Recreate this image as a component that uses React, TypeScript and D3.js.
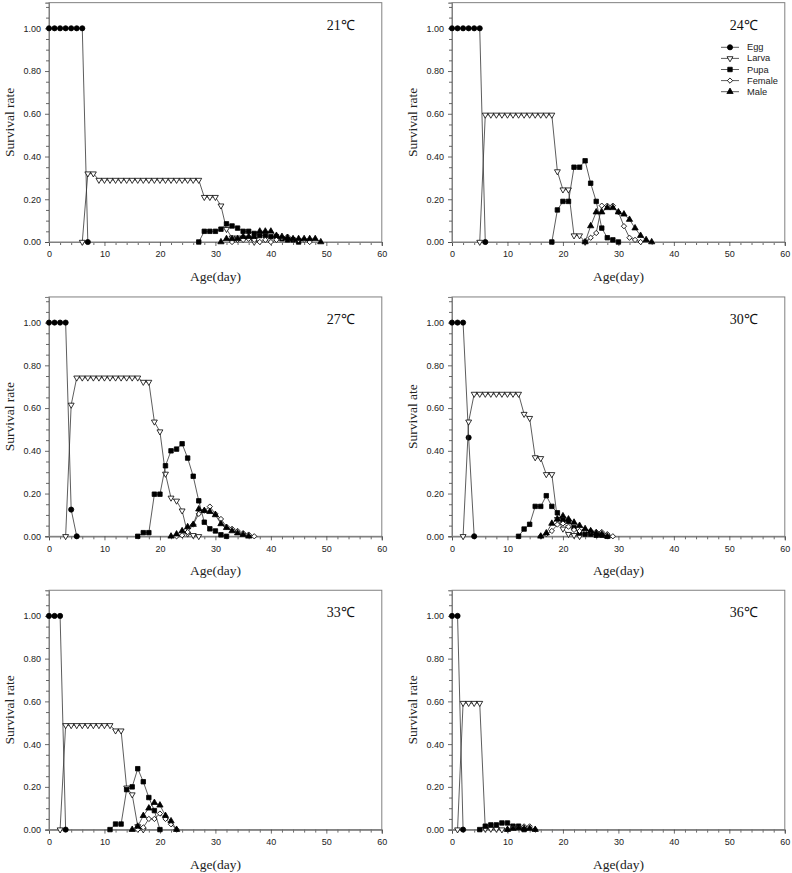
import React, { useEffect, useRef } from 'react';
import * as d3 from 'd3';

// ---------- shared tick values ----------
const xMajorTicks = [0, 10, 20, 30, 40, 50, 60];
const xMinorTicks = [2, 4, 6, 8, 12, 14, 16, 18, 22, 24, 26, 28, 32, 34, 36, 38, 42, 44, 46, 48, 52, 54, 56, 58];
const yMajorTicks = [0, 0.2, 0.4, 0.6, 0.8, 1.0];
const yMinorTicks = [0.05, 0.1, 0.15, 0.25, 0.3, 0.35, 0.45, 0.5, 0.55, 0.65, 0.7, 0.75, 0.85, 0.9, 0.95, 1.05, 1.1];
const stages = ['Egg', 'Larva', 'Pupa', 'Female', 'Male'];
const temps = ['21℃', '24℃', '27℃', '30℃', '33℃', '36℃'];
const yTitles = ['Survival rate', 'Survival rate', 'Survival rate', 'Survival ate', 'Survival rate', 'Survival rate'];

// ---------- 21 ℃ ----------
const egg21 = { start: 0, values: [1, 1, 1, 1, 1, 1, 1, 0] };
const larva21 = { start: 6, values: [0, 0.32, 0.32, 0.29, 0.29, 0.29, 0.29, 0.29, 0.29, 0.29, 0.29, 0.29, 0.29, 0.29, 0.29, 0.29, 0.29, 0.29, 0.29, 0.29, 0.29, 0.29, 0.21, 0.21, 0.21, 0.17, 0.06, 0.02, 0.02, 0.02, 0.02, 0] };
const pupa21 = { start: 27, values: [0, 0.05, 0.05, 0.05, 0.06, 0.085, 0.075, 0.065, 0.05, 0.05, 0.04, 0.03, 0.03, 0.025, 0.025, 0.015, 0.01, 0.01, 0] };
const female21 = { start: 33, values: [0, 0.01, 0.01, 0.015, 0.01, 0, 0.01, 0, 0.01, 0.02, 0.025, 0.015, 0.01, 0.01, 0] };
const male21 = { start: 31, values: [0, 0.015, 0.015, 0.015, 0.025, 0.025, 0.025, 0.05, 0.05, 0.05, 0.03, 0.025, 0.02, 0.015, 0.015, 0.015, 0.015, 0.015, 0] };

// ---------- 24 ℃ ----------
const egg24 = { start: 0, values: [1, 1, 1, 1, 1, 1, 0] };
const larva24 = { start: 5, values: [0, 0.595, 0.595, 0.595, 0.595, 0.595, 0.595, 0.595, 0.595, 0.595, 0.595, 0.595, 0.595, 0.595, 0.33, 0.245, 0.245, 0.03, 0.03, 0] };
const pupa24 = { start: 18, values: [0, 0.15, 0.19, 0.19, 0.35, 0.35, 0.38, 0.275, 0.19, 0.065, 0.02, 0.01, 0] };
const female24 = { start: 24, values: [0, 0.02, 0.042, 0.17, 0.17, 0.17, 0.14, 0.074, 0.02, 0.01, 0] };
const male24 = { start: 24, values: [0, 0.075, 0.14, 0.14, 0.16, 0.16, 0.14, 0.13, 0.105, 0.065, 0.03, 0.01, 0] };

// ---------- 27 ℃ ----------
const egg27 = { start: 0, values: [1, 1, 1, 1, 0.125, 0] };
const larva27 = { start: 3, values: [0, 0.615, 0.742, 0.742, 0.742, 0.742, 0.742, 0.742, 0.742, 0.742, 0.742, 0.742, 0.742, 0.742, 0.722, 0.722, 0.536, 0.49, 0.292, 0.18, 0.166, 0.12, 0.012, 0.005, 0] };
const pupa27 = { start: 16, values: [0, 0.017, 0.017, 0.197, 0.197, 0.33, 0.4, 0.408, 0.433, 0.366, 0.281, 0.166, 0.066, 0.035, 0.025, 0.007, 0] };
const female27 = { start: 23, values: [0, 0.005, 0.02, 0.055, 0.105, 0.12, 0.139, 0.105, 0.081, 0.045, 0.035, 0.025, 0.015, 0.008, 0] };
const male27 = { start: 22, values: [0, 0.01, 0.025, 0.044, 0.055, 0.127, 0.12, 0.115, 0.1, 0.058, 0.04, 0.025, 0.015, 0.008, 0] };

// ---------- 30 ℃ ----------
const egg30 = { start: 0, values: [1, 1, 1, 0.462, 0] };
const larva30 = { start: 2, values: [0, 0.536, 0.666, 0.666, 0.666, 0.666, 0.666, 0.666, 0.666, 0.666, 0.666, 0.572, 0.553, 0.369, 0.365, 0.29, 0.29, 0.08, 0.035, 0.01, 0.005, 0] };
const pupa30 = { start: 12, values: [0, 0.034, 0.056, 0.14, 0.14, 0.19, 0.14, 0.11, 0.075, 0.07, 0.04, 0.015, 0.01, 0.01, 0.005, 0.005, 0] };
const female30 = { start: 16, values: [0, 0.01, 0.025, 0.055, 0.06, 0.045, 0.03, 0.025, 0.03, 0.025, 0.02, 0.02, 0.01, 0] };
const male30 = { start: 16, values: [0, 0.015, 0.06, 0.08, 0.095, 0.08, 0.065, 0.05, 0.035, 0.025, 0.015, 0.01, 0] };

// ---------- 33 ℃ ----------
const egg33 = { start: 0, values: [1, 1, 1, 0] };
const larva33 = { start: 2, values: [0, 0.488, 0.488, 0.488, 0.488, 0.488, 0.488, 0.488, 0.488, 0.488, 0.463, 0.463, 0.196, 0.164, 0.015, 0] };
const pupa33 = { start: 11, values: [0, 0.026, 0.026, 0.187, 0.2, 0.285, 0.224, 0.15, 0.089, 0] };
const female33 = { start: 16, values: [0, 0.01, 0.05, 0.05, 0.075, 0.05, 0.025, 0] };
const male33 = { start: 15, values: [0, 0.015, 0.065, 0.1, 0.126, 0.114, 0.065, 0.04, 0] };

// ---------- 36 ℃ ----------
const egg36 = { start: 0, values: [1, 1, 0] };
const larva36 = { start: 1, values: [0, 0.592, 0.592, 0.592, 0.592, 0.003, 0.003, 0.003, 0] };
const pupa36 = { start: 5, values: [0, 0.016, 0.022, 0.022, 0.031, 0.031, 0.016, 0.016, 0] };
const female36 = { start: 10, values: [0, 0.01, 0.01, 0.015, 0.015, 0] };
const male36 = { start: 10, values: [0, 0.005, 0.008, 0.005, 0.005, 0] };

const panelSeries = [
  [egg21, larva21, pupa21, female21, male21],
  [egg24, larva24, pupa24, female24, male24],
  [egg27, larva27, pupa27, female27, male27],
  [egg30, larva30, pupa30, female30, male30],
  [egg33, larva33, pupa33, female33, male33],
  [egg36, larva36, pupa36, female36, male36],
];

// ---------- layout ----------
const colX = [49, 452];
const rowZero = [242, 536.3, 829.6];
const plotW = 332.8;
const unitH = 213.7;
const yTop = 1.12;

const SANS = '"Liberation Sans", Arial, sans-serif';
const SERIF = '"Liberation Serif", "Times New Roman", serif';

type Series = { start: number; values: number[] };

function markerPath(stage: number): { d: string; fill: string; rotate: number } {
  switch (stage) {
    case 0:
      return { d: d3.symbol().type(d3.symbolCircle).size(21)() as string, fill: '#000', rotate: 0 };
    case 1:
      return { d: d3.symbol().type(d3.symbolTriangle).size(15)() as string, fill: '#fff', rotate: 180 };
    case 2:
      return { d: d3.symbol().type(d3.symbolSquare).size(20)() as string, fill: '#000', rotate: 0 };
    case 3:
      return { d: d3.symbol().type(d3.symbolSquare).size(14)() as string, fill: '#fff', rotate: 45 };
    default:
      return { d: d3.symbol().type(d3.symbolTriangle).size(17)() as string, fill: '#000', rotate: 0 };
  }
}

export default function App() {
  const ref = useRef<SVGSVGElement | null>(null);

  useEffect(() => {
    const svg = d3.select(ref.current);
    svg.selectAll('*').remove();

    panelSeries.forEach((series, pi) => {
      const col = pi % 2;
      const row = Math.floor(pi / 2);
      const ox = colX[col];
      const zy = rowZero[row];
      const topY = zy - yTop * unitH;
      const x = d3.scaleLinear().domain([0, 60]).range([0, plotW]);
      const y = d3.scaleLinear().domain([0, yTop]).range([yTop * unitH, 0]);

      const g = svg.append('g').attr('transform', `translate(${ox},${topY})`);

      // frame
      g.append('rect')
        .attr('x', 0).attr('y', 0)
        .attr('width', plotW).attr('height', yTop * unitH)
        .attr('fill', 'none').attr('stroke', '#808080').attr('stroke-width', 1);

      // axes
      const h = yTop * unitH;
      const xMinor = g.append('g').attr('transform', `translate(0,${h})`)
        .call(d3.axisBottom(x).tickValues(xMinorTicks).tickSize(3).tickFormat(() => ''));
      const xMajor = g.append('g').attr('transform', `translate(0,${h})`)
        .call(d3.axisBottom(x).tickValues(xMajorTicks).tickSize(4).tickPadding(5).tickFormat(d3.format('d')));
      const yMinor = g.append('g')
        .call(d3.axisLeft(y).tickValues(yMinorTicks).tickSize(3).tickFormat(() => ''));
      const yMajor = g.append('g')
        .call(d3.axisLeft(y).tickValues(yMajorTicks).tickSize(4).tickPadding(4).tickFormat(d3.format('.2f')));
      [xMinor, xMajor, yMinor, yMajor].forEach((a) => {
        a.select('.domain').attr('stroke', '#808080');
        a.selectAll('.tick line').attr('stroke', '#444').attr('stroke-width', 0.8);
        a.selectAll('.tick text').attr('font-family', SANS).attr('font-size', 9).attr('fill', '#222');
      });

      // axis titles
      g.append('text')
        .attr('transform', `translate(-40,${h / 2}) rotate(-90)`)
        .attr('text-anchor', 'middle')
        .attr('dominant-baseline', 'central')
        .attr('font-family', SERIF).attr('font-size', 13.5).attr('fill', '#222')
        .text(yTitles[pi]);
      g.append('text')
        .attr('x', plotW / 2).attr('y', h + 39)
        .attr('text-anchor', 'middle')
        .attr('font-family', SERIF).attr('font-size', 13.5).attr('fill', '#222')
        .text('Age(day)');

      // temperature label
      g.append('text')
        .attr('x', plotW - 27).attr('y', 27)
        .attr('text-anchor', 'end')
        .attr('font-family', SERIF).attr('font-size', 14).attr('fill', '#111')
        .text(temps[pi]);

      // series
      const line = d3.line<[number, number]>().x((d) => x(d[0])).y((d) => y(d[1]));
      (series as Series[]).forEach((s, si) => {
        const pts: [number, number][] = s.values.map((v, i) => [s.start + i, v]);
        g.append('path')
          .attr('d', line(pts) as string)
          .attr('fill', 'none')
          .attr('stroke', '#333')
          .attr('stroke-width', 0.8);
        const m = markerPath(si);
        g.append('g').selectAll('path')
          .data(pts)
          .join('path')
          .attr('transform', (d) => `translate(${x(d[0])},${y(d[1])}) rotate(${m.rotate})`)
          .attr('d', m.d)
          .attr('fill', m.fill)
          .attr('stroke', '#000')
          .attr('stroke-width', 0.8);
      });

      // legend on 24 ℃ panel
      if (pi === 1) {
        const lg = svg.append('g').attr('transform', `translate(721,47.3)`);
        stages.forEach((name, si) => {
          const row2 = lg.append('g').attr('transform', `translate(0,${si * 11.1})`);
          row2.append('line').attr('x1', 0).attr('x2', 18).attr('y1', 0).attr('y2', 0)
            .attr('stroke', '#333').attr('stroke-width', 0.8);
          const m = markerPath(si);
          row2.append('path')
            .attr('transform', `translate(9,0) rotate(${m.rotate})`)
            .attr('d', m.d).attr('fill', m.fill).attr('stroke', '#000').attr('stroke-width', 0.8);
          row2.append('text')
            .attr('x', 26).attr('y', 0)
            .attr('dominant-baseline', 'central')
            .attr('font-family', SANS).attr('font-size', 9.3).attr('fill', '#222')
            .text(name);
        });
      }
    });
  }, []);

  return (
    <svg
      ref={ref}
      width={792}
      height={873}
      style={{ position: 'absolute', left: 0, top: 0, background: '#fff' }}
    />
  );
}
